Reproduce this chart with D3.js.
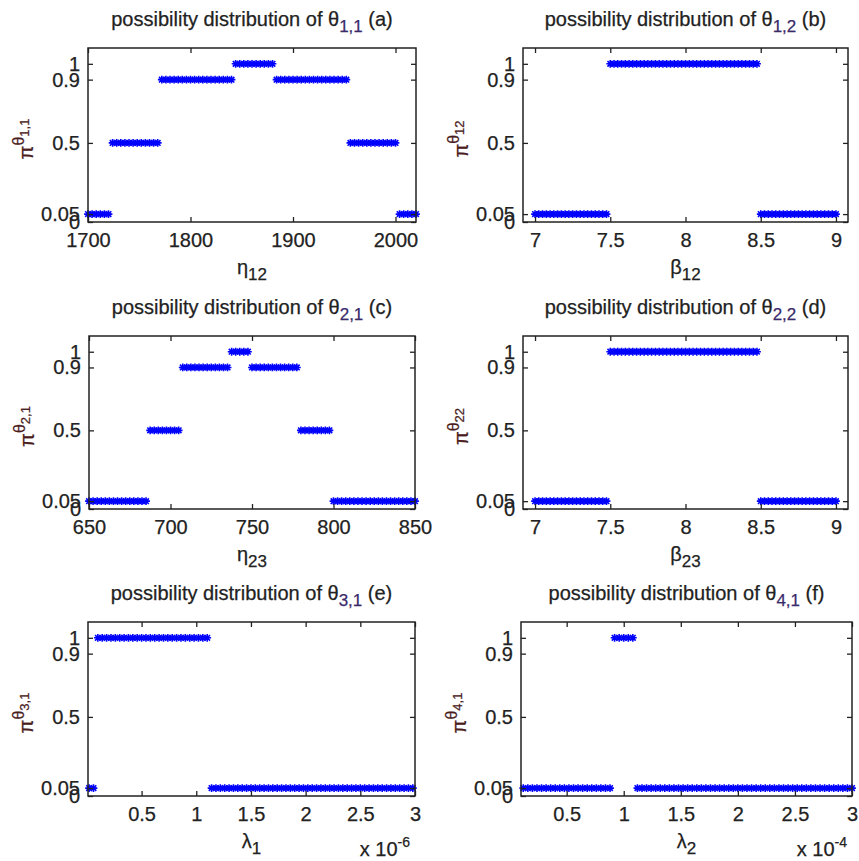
<!DOCTYPE html>
<html>
<head>
<meta charset="utf-8">
<script src="https://cdn.jsdelivr.net/npm/d3@7"></script>
<style>
  body { margin: 0; background: #fff; }
  svg { display: block; }
  text { font-family: "Liberation Sans", Arial, sans-serif; fill: #222; stroke: #222; stroke-width: 0.25px; }
</style>
</head>
<body>
<div id="chart"></div>
<script>
// ---- data ----
// each panel: sampling grid [start, end, step], level break points, levels
const gridA = [1700, 2020, 4];
const breaksA = [1700, 1722, 1770, 1843, 1881, 1955, 2001];
const levelsA = [0.05, 0.5, 0.9, 1, 0.9, 0.5, 0.05];

const gridB = [7, 9, 0.025];
const breaksB = [7, 7.5, 8.5];
const levelsB = [0.05, 1, 0.05];

const gridC = [650, 850, 2.5];
const breaksC = [650, 687, 706, 736, 750, 780, 799];
const levelsC = [0.05, 0.5, 0.9, 1, 0.9, 0.5, 0.05];

const gridD = [7, 9, 0.025];
const breaksD = [7, 7.5, 8.5];
const levelsD = [0.05, 1, 0.05];

// x in units of 1e-6
const gridE = [0.02, 3, 0.04];
const breaksE = [0, 0.09, 1.11];
const levelsE = [0.05, 1, 0.05];

// x in units of 1e-4
const gridF = [0.12, 3, 0.04];
const breaksF = [0, 0.9, 1.12];
const levelsF = [0.05, 1, 0.05];

const yTicks = [0, 0.05, 0.5, 0.9, 1];
const yTickLabels = ["0", "0.05", "0.5", "0.9", "1"];
const xTicksA = [1700, 1800, 1900, 2000];
const xTicksB = [7, 7.5, 8, 8.5, 9];
const xTicksC = [650, 700, 750, 800, 850];
const xTicksE = [0.5, 1, 1.5, 2, 2.5, 3];

// ---- layout ----
const width = 859, height = 861;
const panels = [
  { grid: gridA, breaks: breaksA, levels: levelsA, xDomain: [1700, 2020], xTicks: xTicksA,
    box: [88, 416, 48, 222], title: ["1,1", "(a)"], xLab: ["η", "12"], yLab: "1,1" },
  { grid: gridB, breaks: breaksB, levels: levelsB, xDomain: [6.92, 9.08], xTicks: xTicksB,
    box: [523, 848, 48, 222], title: ["1,2", "(b)"], xLab: ["β", "12"], yLab: "12" },
  { grid: gridC, breaks: breaksC, levels: levelsC, xDomain: [650, 850], xTicks: xTicksC,
    box: [89, 415, 336, 509], title: ["2,1", "(c)"], xLab: ["η", "23"], yLab: "2,1" },
  { grid: gridD, breaks: breaksD, levels: levelsD, xDomain: [6.92, 9.08], xTicks: xTicksB,
    box: [523, 848, 336, 509], title: ["2,2", "(d)"], xLab: ["β", "23"], yLab: "22" },
  { grid: gridE, breaks: breaksE, levels: levelsE, xDomain: [0.01, 3], xTicks: xTicksE,
    box: [88, 415, 622, 796], title: ["3,1", "(e)"], xLab: ["λ", "1"], yLab: "3,1", exp: "-6" },
  { grid: gridF, breaks: breaksF, levels: levelsF, xDomain: [0.1, 3], xTicks: xTicksE,
    box: [521, 852, 622, 796], title: ["4,1", "(f)"], xLab: ["λ", "2"], yLab: "4,1", exp: "-4" }
];

const svg = d3.select("#chart")
  .append("svg")
  .attr("width", width)
  .attr("height", height);

// MATLAB style '*' marker
const r = 3.9, dd = r * 0.72;
const star = `M${-r},0H${r}M0,${-r}V${r}M${-dd},${-dd}L${dd},${dd}M${-dd},${dd}L${dd},${-dd}`;

panels.forEach(p => {
  const [x0, x1, y0, y1] = p.box;
  const x = d3.scaleLinear().domain(p.xDomain).range([x0, x1]);
  const y = d3.scaleLinear().domain([0, 1.1]).range([y1, y0]);
  const g = svg.append("g");

  // sample points
  const pts = d3.range(p.grid[0], p.grid[1] + p.grid[2] / 2, p.grid[2])
    .map(v => ({ x: v, y: p.levels[Math.max(0, d3.bisectRight(p.breaks, v) - 1)] }));

  g.selectAll("path.pt")
    .data(pts)
    .enter()
    .append("path")
    .attr("class", "pt")
    .attr("transform", d => `translate(${x(d.x)},${y(d.y)})`)
    .attr("d", star)
    .attr("stroke", "#0000ff")
    .attr("stroke-width", 1.6)
    .attr("fill", "none");

  // axes with inward ticks on all four sides
  const tick = 5;
  g.append("g")
    .attr("transform", `translate(0,${y1})`)
    .call(d3.axisBottom(x).tickValues(p.xTicks).tickSize(-tick).tickPadding(11).tickFormat(d3.format("~g")));
  g.append("g")
    .attr("transform", `translate(0,${y0})`)
    .call(d3.axisTop(x).tickValues(p.xTicks).tickSize(-tick).tickFormat(""));
  g.append("g")
    .attr("transform", `translate(${x0},0)`)
    .call(d3.axisLeft(y).tickValues(yTicks).tickSize(-tick).tickPadding(8)
      .tickFormat((d, i) => yTickLabels[i]));
  g.append("g")
    .attr("transform", `translate(${x1},0)`)
    .call(d3.axisRight(y).tickValues(yTicks).tickSize(-tick).tickFormat(""));

  g.selectAll(".domain").remove();
  g.selectAll(".tick line").attr("stroke", "#222").attr("stroke-width", 1.3);
  g.selectAll(".tick text").style("font-size", "20px").attr("fill", "#222");

  g.append("rect")
    .attr("x", x0).attr("y", y0)
    .attr("width", x1 - x0).attr("height", y1 - y0)
    .attr("fill", "none")
    .attr("stroke", "#222")
    .attr("stroke-width", 1.5);

  const cx = (x0 + x1) / 2;

  // title
  const t = g.append("text")
    .attr("x", cx).attr("y", y0 - 22)
    .attr("text-anchor", "middle")
    .style("font-size", "20px");
  t.append("tspan").text("possibility distribution of θ");
  t.append("tspan").attr("dy", 6).style("font-size", "17px")
    .style("fill", "#3a2a6a").style("stroke", "#3a2a6a").text(p.title[0]);
  t.append("tspan").attr("dy", -6).text(" " + p.title[1]);

  // x label
  const xl = g.append("text")
    .attr("x", cx).attr("y", y1 + 52)
    .attr("text-anchor", "middle")
    .style("font-size", "20px");
  xl.append("tspan").text(p.xLab[0]);
  xl.append("tspan").attr("dy", 6).style("font-size", "17px").text(p.xLab[1]);

  // y label
  const yl = g.append("text")
    .attr("transform", `translate(${x0 - 55},${(y0 + y1) / 2 + 4}) rotate(-90)`)
    .attr("text-anchor", "middle")
    .style("font-size", "20px")
    .style("fill", "#4a1c1c").style("stroke", "#4a1c1c");
  yl.append("tspan").text("π");
  yl.append("tspan").attr("dy", -9).style("font-size", "16px").text("θ");
  yl.append("tspan").attr("dy", 5).style("font-size", "13px").text(p.yLab);

  // exponent note
  if (p.exp) {
    const e = g.append("text")
      .attr("x", x1 - 5).attr("y", y1 + 60)
      .attr("text-anchor", "end")
      .style("font-size", "20px");
    e.append("tspan").text("x 10");
    e.append("tspan").attr("dy", -9).style("font-size", "14px").text(p.exp);
  }
});
</script>
</body>
</html>
